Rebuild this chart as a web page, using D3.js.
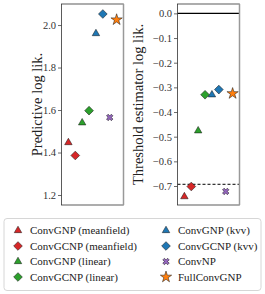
<!DOCTYPE html>
<html><head><meta charset="utf-8">
<script src="https://cdn.jsdelivr.net/npm/d3@7"></script>
<style>body{margin:0;background:#fff}svg{display:block}text{font-family:"Liberation Serif","DejaVu Serif",serif}</style>
</head><body><svg id="c" width="265" height="294"></svg>
<script>
const models = ["ConvGNP (meanfield)","ConvGCNP (meanfield)","ConvGNP (linear)","ConvGCNP (linear)","ConvGNP (kvv)","ConvGCNP (kvv)","ConvNP","FullConvGNP"];
const colors = ["#d62728","#d62728","#2ca02c","#2ca02c","#1f77b4","#1f77b4","#9467bd","#ff7f0e"];
const markers = ["triangle","diamond","triangle","diamond","triangle","diamond","x","star"];
const predLogLik = [1.447,1.386,1.540,1.597,1.960,2.052,1.565,2.025];
const threshLogLik = [-0.743,-0.702,-0.476,-0.330,-0.330,-0.309,-0.722,-0.325];
const leftTicks = [1.2,1.4,1.6,1.8,2.0];
const rightTicks = [0.0,-0.1,-0.2,-0.3,-0.4,-0.5,-0.6,-0.7];
const dashedRef = -0.693;

const svg = d3.select("#c");
const plotTop=4,plotBottom=205;

function sym(m){
  if(m==="triangle") return {t:d3.symbolTriangle,s:24,r:0};
  if(m==="diamond") return {t:d3.symbolSquare,s:38,r:45};
  if(m==="star") return {t:d3.symbolStar,s:40,r:0};
  return {t:d3.symbolCross,s:26,r:45};
}
function fmt(v){ const s=d3.format(".1f")(Math.abs(v)); return (v< -1e-9?"\u2212":"")+s; }

function panel(x0,x1,domain,ticks,label,labelX){
  const x=d3.scaleLinear().domain([-1,models.length]).range([x0,x1]);
  const y=d3.scaleLinear().domain(domain).range([plotBottom,plotTop]);
  const g=svg.append("g");
  const ax=g.append("g").attr("transform",`translate(${x0},0)`).call(d3.axisLeft(y).tickValues(ticks).tickFormat(fmt).tickSize(3.5).tickPadding(2));
  ax.select(".domain").remove();
  ax.selectAll("line").attr("stroke","#444").attr("stroke-width",0.8);
  ax.selectAll("text").attr("font-size","10.5px").attr("fill","#333").attr("font-family","Liberation Serif");
  g.append("text").attr("transform",`translate(${labelX},${(plotTop+plotBottom)/2}) rotate(-90)`).attr("text-anchor","middle").attr("dy","0.35em").attr("font-size","14.5px").attr("fill","#222").text(label);
  return {x,y,g};
}
function points(p,vals){
  p.g.selectAll("path.pt").data(vals).join("path").attr("class","pt")
   .attr("d",(d,i)=>{const s=sym(markers[i]);return d3.symbol().type(s.t).size(s.s)();})
   .attr("transform",(d,i)=>`translate(${p.x(i)},${p.y(d)}) rotate(${sym(markers[i]).r})`)
   .attr("fill",(d,i)=>colors[i]).attr("stroke","#111").attr("stroke-width",0.5);
}
function frame(x0,x1){
  svg.append("rect").attr("x",x0).attr("y",plotTop).attr("width",x1-x0).attr("height",plotBottom-plotTop).attr("fill","none").attr("stroke","#333").attr("stroke-width",0.8);
  svg.append("line").attr("x1",x1).attr("x2",x1).attr("y1",plotTop).attr("y2",plotBottom).attr("stroke","#999").attr("stroke-width",1.5);
}

const L=panel(61.5,123.5,[1.153,2.099],leftTicks,"Predictive log lik.",37);
points(L,predLogLik); frame(61.5,123.5);

const R=panel(177.5,239.5,[-0.777,0.038],rightTicks,"Threshold estimator log lik.",138);
R.g.append("line").attr("x1",177.5).attr("x2",239.5).attr("y1",R.y(0)).attr("y2",R.y(0)).attr("stroke","#000").attr("stroke-width",1.2);
R.g.append("line").attr("x1",177.5).attr("x2",239.5).attr("y1",R.y(dashedRef)).attr("y2",R.y(dashedRef)).attr("stroke","#000").attr("stroke-width",1).attr("stroke-dasharray","3,2");
points(R,threshLogLik); frame(177.5,239.5);

// legend
const lg=svg.append("g");
lg.append("rect").attr("x",4).attr("y",218.5).attr("width",257).attr("height",72).attr("rx",3).attr("fill","#fff").attr("stroke","#ccc").attr("stroke-width",0.8);
const rowsY=[230.5,246,261.5,277];
models.forEach((m,i)=>{
  const col=i<4?0:1, row=i<4?i:i-4;
  const mx=col===0?18:166, tx=col===0?30:178, yy=rowsY[row];
  const s=sym(markers[i]);
  lg.append("path").attr("d",d3.symbol().type(s.t).size(s.s)()).attr("transform",`translate(${mx},${yy}) rotate(${s.r})`).attr("fill",colors[i]).attr("stroke","#111").attr("stroke-width",0.5);
  lg.append("text").attr("x",tx).attr("y",yy).attr("dy","0.35em").attr("font-size","11px").attr("fill","#222").text(m);
});
</script></body></html>
